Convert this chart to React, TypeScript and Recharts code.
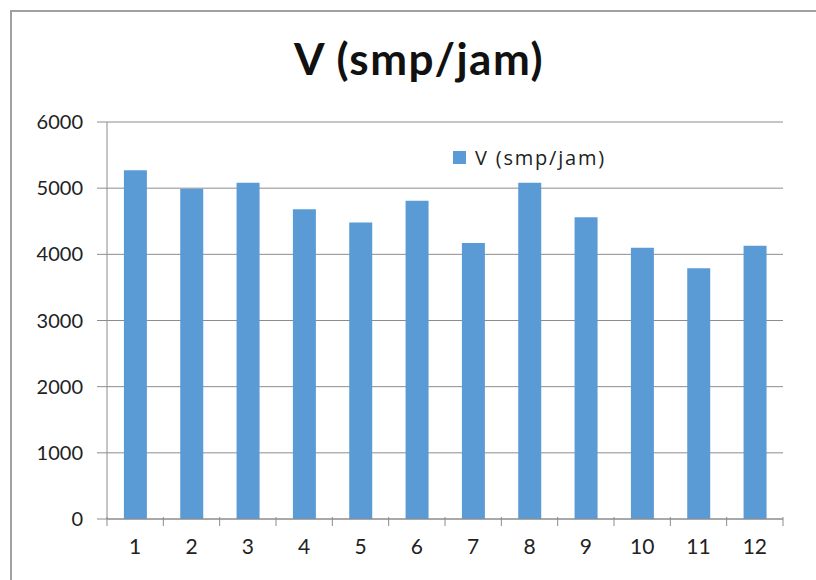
import React from "react";
import { BarChart, Bar, XAxis, YAxis, CartesianGrid } from "recharts";

const categories = ["1", "2", "3", "4", "5", "6", "7", "8", "9", "10", "11", "12"];
const volume = [5270, 4990, 5080, 4680, 4480, 4810, 4170, 5080, 4560, 4100, 3790, 4130];
const yTicks = [0, 1000, 2000, 3000, 4000, 5000, 6000];

const SERIES_NAME = "V (smp/jam)";
const BAR_COLOR = "#5b9bd5";
const LINE_COLOR = "#8c8c8c";
const FONT = "Lato, 'Open Sans', sans-serif";

const data = categories.map((c, i) => ({ name: c, v: volume[i] }));

// x tick: label in the middle, tick mark on the category boundaries (Excel style)
function XTick(props: any) {
  const { x, y, payload, index } = props;
  const half = payload.offset ?? 28.17;
  const last = index === categories.length - 1;
  return (
    <g>
      <line x1={x - half} y1={y - 10} x2={x - half} y2={y - 1} stroke={LINE_COLOR} strokeWidth={1} />
      {last && <line x1={x + half} y1={y - 10} x2={x + half} y2={y - 1} stroke={LINE_COLOR} strokeWidth={1} />}
      <text x={x} y={y + 27} textAnchor="middle" fill="#222" fontSize={21} fontFamily={FONT}>
        {payload.value}
      </text>
    </g>
  );
}

export default function App() {
  return (
    <div style={{ position: "fixed", left: 0, top: 0, width: 816, height: 580, overflow: "hidden", background: "#fff" }}>
      <div
        style={{
          position: "absolute",
          left: 10,
          top: 10,
          width: 900,
          height: 900,
          border: `2px solid #a0a0a0`,
        }}
      />
      <div
        style={{
          position: "absolute",
          left: 11,
          top: 32,
          width: 816,
          textAlign: "center",
          fontFamily: FONT,
          fontWeight: 700,
          fontSize: 44,
          letterSpacing: 1.5,
          color: "#111",
        }}
      >
        {SERIES_NAME}
      </div>
      <div
        style={{
          position: "absolute",
          left: 453,
          top: 144,
          display: "flex",
          alignItems: "center",
          fontFamily: "'Open Sans', sans-serif",
          fontSize: 20,
          letterSpacing: 1.8,
          color: "#222",
        }}
      >
        <span style={{ display: "inline-block", width: 13, height: 13, background: BAR_COLOR, marginRight: 9 }} />
        {SERIES_NAME}
      </div>
      <div style={{ position: "absolute", left: 0, top: 0 }}>
        <BarChart
          width={816}
          height={580}
          data={data}
          margin={{ top: 122, right: 33, left: 0, bottom: 21 }}
          barCategoryGap="30%"
        >
          <CartesianGrid vertical={false} stroke={LINE_COLOR} strokeWidth={1} />
          <XAxis
            dataKey="name"
            height={40}
            axisLine={{ stroke: LINE_COLOR }}
            tickLine={false}
            tick={<XTick />}
            interval={0}
          />
          <YAxis
            width={107}
            domain={[0, 6000]}
            ticks={yTicks}
            axisLine={{ stroke: LINE_COLOR }}
            tickLine={{ stroke: LINE_COLOR }}
            tickSize={10}
            tickMargin={14}
            tick={{ fontSize: 20, fill: "#222", fontFamily: FONT }}
          />
          <Bar dataKey="v" fill={BAR_COLOR} isAnimationActive={false} />
        </BarChart>
      </div>
    </div>
  );
}
